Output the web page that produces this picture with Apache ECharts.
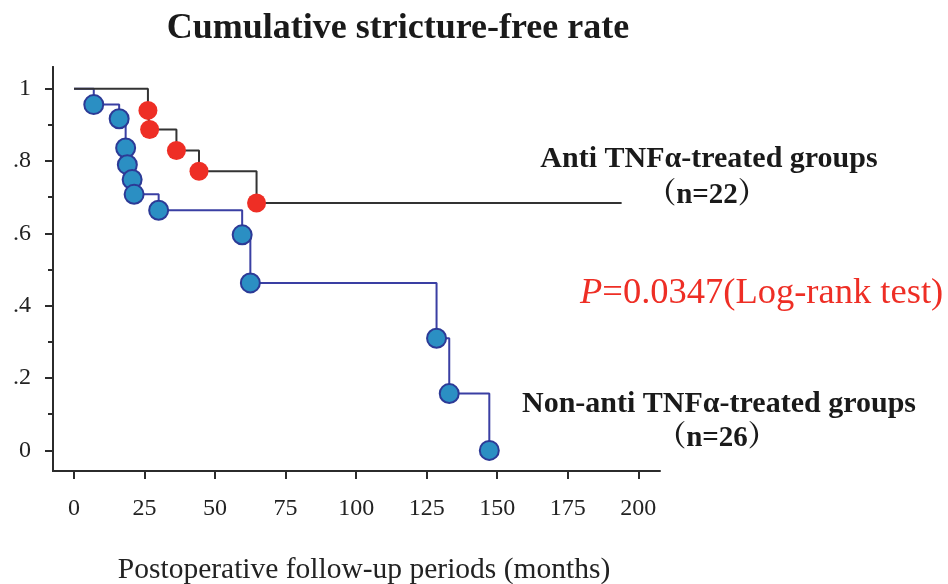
<!DOCTYPE html>
<html>
<head>
<meta charset="utf-8">
<script src="https://cdn.jsdelivr.net/npm/echarts@6/dist/echarts.min.js"></script>
<style>
html,body{margin:0;padding:0;background:#fff;}
#chart{width:948px;height:584px;}
</style>
</head>
<body>
<div id="chart"></div>
<script>
// ---- data ----
var xTicks = [0, 25, 50, 75, 100, 125, 150, 175, 200];
var yTicks = [0, 0.2, 0.4, 0.6, 0.8, 1];
var yTickLabels = ['0', '.2', '.4', '.6', '.8', '1'];
var yMinorTicks = [0.1, 0.3, 0.5, 0.7, 0.9];

// Anti TNFα-treated group (n=22): time (months), cumulative stricture-free rate
var antiTime = [0, 26.2, 26.8, 36.3, 44.3, 64.7, 194.1];
var antiSurv = [1, 0.94, 0.887, 0.829, 0.772, 0.684, 0.684];
var antiEventIdx = [1, 2, 3, 4, 5];

// Non-anti TNFα-treated group (n=26)
var nonTime = [0, 7, 16, 18.3, 18.9, 20.6, 21.3, 30, 59.6, 62.5, 128.5, 133, 147.2];
var nonSurv = [1, 0.956, 0.917, 0.836, 0.79, 0.749, 0.708, 0.664, 0.596, 0.463, 0.31, 0.157, 0];
var nonEventIdx = [1, 2, 3, 4, 5, 6, 7, 8, 9, 10, 11, 12];

var titleText = 'Cumulative stricture-free rate';
var xAxisName = 'Postoperative follow-up periods (months)';
var antiLabel = 'Anti TNFα-treated groups';
var antiN = '（n=22）';
var nonLabel = 'Non-anti TNFα-treated groups';
var nonN = '（n=26）';
var pText = '{i|P}=0.0347(Log-rank test)';

// ---- build ----
function pairs(t, s) { return t.map(function (v, i) { return [v, s[i]]; }); }
function pick(t, s, idx) { return idx.map(function (i) { return [t[i], s[i]]; }); }

var serif = '"Liberation Serif", "Times New Roman", serif';
var serifCJK = '"Liberation Serif", "Noto Serif CJK SC", "Noto Sans CJK SC", serif';
var axisColor = '#2b2b2b';

var chart = echarts.init(document.getElementById('chart'), null, {renderer: 'canvas'});
chart.setOption({
  backgroundColor: '#ffffff',
  animation: false,
  grid: {left: 53, right: 288, top: 67, bottom: 113, containLabel: false},
  xAxis: {
    type: 'value', min: -7.45, max: 207.7,
    splitLine: {show: false},
    axisLine: {show: true, onZero: false, lineStyle: {color: axisColor, width: 2}},
    axisTick: {show: true, customValues: xTicks, length: 8, inside: false, lineStyle: {color: axisColor, width: 2}},
    axisLabel: {customValues: xTicks, margin: 26, color: '#222', fontFamily: serif, fontSize: 24}
  },
  yAxis: [{
    type: 'value', min: -0.057, max: 1.06, position: 'left',
    splitLine: {show: false},
    axisLine: {show: true, onZero: false, lineStyle: {color: axisColor, width: 2}},
    axisTick: {show: true, customValues: yTicks, length: 8, lineStyle: {color: axisColor, width: 2}},
    axisLabel: {customValues: yTicks, margin: 22, color: '#222', fontFamily: serif, fontSize: 24,
      formatter: function (v) { var i = yTicks.indexOf(v); return i >= 0 ? yTickLabels[i] : ''; }}
  }, {
    type: 'value', min: -0.057, max: 1.06, position: 'left',
    splitLine: {show: false},
    axisLine: {show: true, onZero: false, lineStyle: {color: axisColor, width: 2}},
    axisTick: {show: true, customValues: yMinorTicks, length: 5, lineStyle: {color: axisColor, width: 2}},
    axisLabel: {show: false}
  }],
  series: [{
    type: 'line', step: 'end', data: pairs(nonTime, nonSurv), showSymbol: false,
    lineStyle: {color: '#3a3fa3', width: 2}, z: 2
  }, {
    type: 'line', step: 'end', data: pairs(antiTime, antiSurv), showSymbol: false,
    lineStyle: {color: '#333333', width: 2}, z: 2
  }, {
    type: 'scatter', data: pick(nonTime, nonSurv, nonEventIdx), symbol: 'circle', symbolSize: 19,
    itemStyle: {color: '#2b8fc3', borderColor: '#2c3a96', borderWidth: 2, opacity: 1}, z: 3
  }, {
    type: 'scatter', data: pick(antiTime, antiSurv, antiEventIdx), symbol: 'circle', symbolSize: 19,
    itemStyle: {color: '#ee2e25', opacity: 1}, z: 3
  }],
  graphic: [
    {type: 'text', x: 398, y: 29, style: {text: titleText, fill: '#1a1a1a', font: 'bold 36px ' + serif, align: 'center', verticalAlign: 'middle'}},
    {type: 'text', x: 364, y: 570, style: {text: xAxisName, fill: '#222', font: '29.5px ' + serif, align: 'center', verticalAlign: 'middle'}},
    {type: 'text', x: 709, y: 159, style: {text: antiLabel, fill: '#1a1a1a', font: 'bold 30px ' + serif, align: 'center', verticalAlign: 'middle'}},
    {type: 'text', x: 707, y: 196, style: {text: antiN, fill: '#1a1a1a', font: 'bold 29px ' + serifCJK, align: 'center', verticalAlign: 'middle'}},
    {type: 'text', x: 719, y: 404, style: {text: nonLabel, fill: '#1a1a1a', font: 'bold 30px ' + serif, align: 'center', verticalAlign: 'middle'}},
    {type: 'text', x: 717, y: 439, style: {text: nonN, fill: '#1a1a1a', font: 'bold 29px ' + serifCJK, align: 'center', verticalAlign: 'middle'}},
    {type: 'text', x: 580, y: 293, style: {text: pText, fill: '#ee2e25', fontFamily: serif, fontSize: 36.5, align: 'left', verticalAlign: 'middle',
      rich: {i: {fontStyle: 'italic', fontFamily: serif, fontSize: 36.5, fill: '#ee2e25'}}}}
  ]
});
</script>
</body>
</html>
